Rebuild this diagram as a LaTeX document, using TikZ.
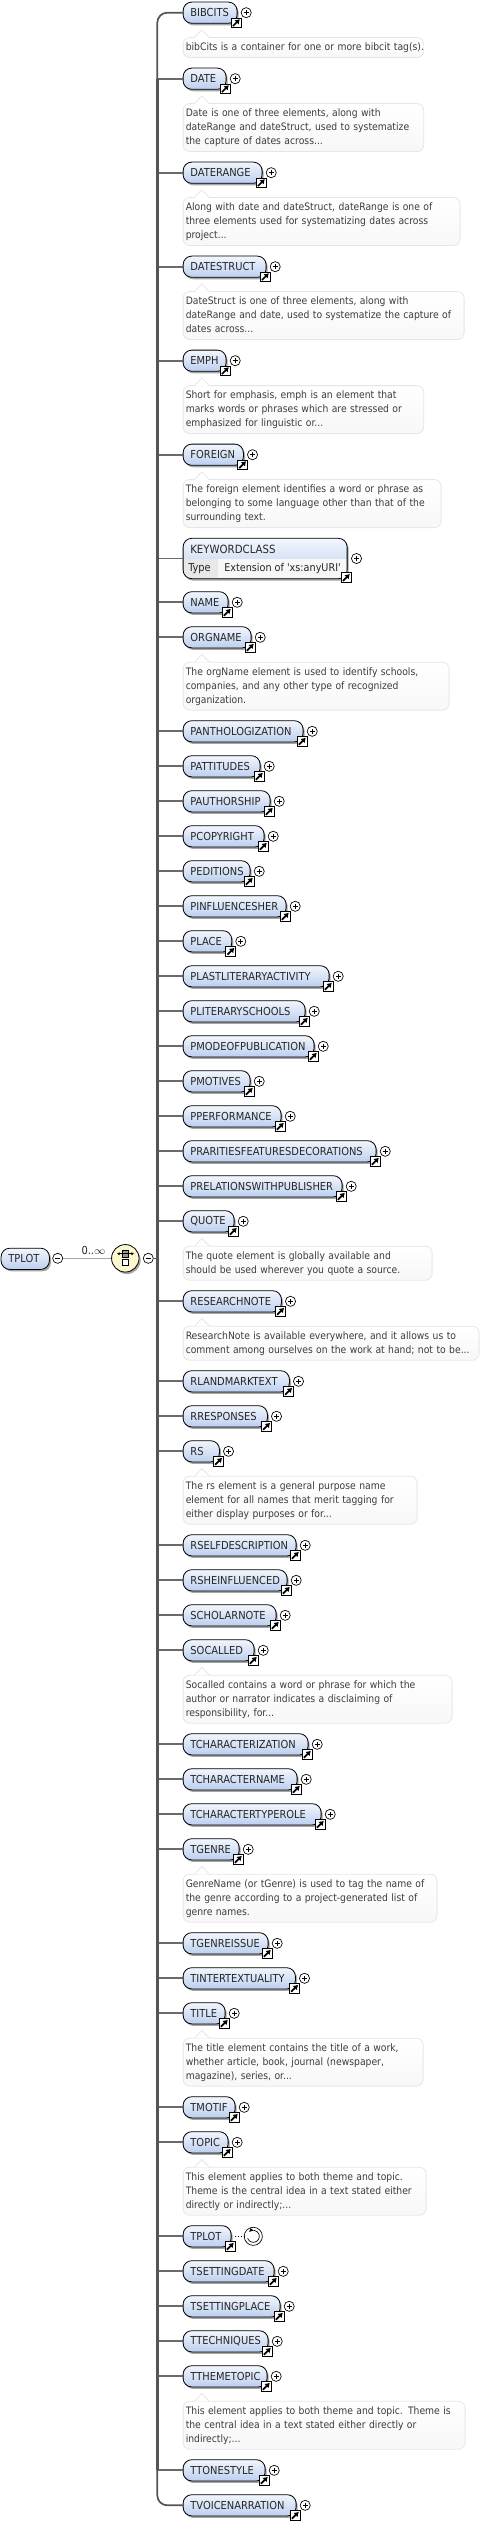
\documentclass[tikz,border=0pt]{standalone}
\usepackage{fontspec}
\setmainfont{DejaVu Sans Condensed}
\usetikzlibrary{calc,arrows.meta,shadows}
\definecolor{elemtop}{HTML}{F2F6FD}
\definecolor{elembot}{HTML}{BCCFEF}
\definecolor{buscol}{HTML}{555555}
\definecolor{branchcol}{HTML}{6A6A6A}
\definecolor{desclin}{HTML}{E6E6E6}
\definecolor{desctxt}{HTML}{3C3C3C}
\definecolor{seqfill}{HTML}{FBF8CF}
\tikzset{
  elemshadow/.style={drop shadow={shadow xshift=1.2pt,shadow yshift=-1.5pt,fill=black,opacity=.35}},
  elembox/.style={draw=black,line width=0.6pt,rounded corners=6.5pt,anchor=west,elemshadow,
    top color=elemtop,bottom color=elembot,minimum height=15.9pt,inner xsep=5.5pt,inner ysep=0pt,
    align=left,text=black!85,font=\fontsize{8.25}{10}\selectfont},
  branch/.style={color=branchcol,line width=1.3pt},
  descbox/.style={draw=desclin,line width=0.6pt,rounded corners=5pt,anchor=north west,
    top color=white,bottom color=black!3,inner xsep=2pt,inner ysep=2.25pt,align=left,text=desctxt,
    font=\fontsize{7.7}{10.5}\selectfont,execute at begin node=\strut,execute at end node=\strut},
  linkbox/.style={draw=black,fill=white,line width=0.6pt,minimum size=7.4pt,inner sep=0pt,
    path picture={\draw[line width=1.3pt,-{Latex[length=3.4pt,width=4.6pt]}]
      ([shift={(1.3pt,1.3pt)}]path picture bounding box.south west) -- ([shift={(-0.9pt,-0.9pt)}]path picture bounding box.north east);}},
  plusbtn/.style={circle,draw=black,fill=white,line width=0.5pt,minimum size=7.6pt,inner sep=0pt,
    path picture={\draw[line width=0.5pt] ([xshift=-2pt]path picture bounding box.center) -- ([xshift=2pt]path picture bounding box.center)
      ([yshift=-2pt]path picture bounding box.center) -- ([yshift=2pt]path picture bounding box.center);}},
  minusbtn/.style={circle,draw=black,fill=white,line width=0.5pt,minimum size=7.6pt,inner sep=0pt,
    path picture={\draw[line width=0.5pt] ([xshift=-2pt]path picture bounding box.center) -- ([xshift=2pt]path picture bounding box.center);}},
  seqcell/.style={draw=black,line width=0.5pt,minimum size=4.7pt,inner sep=0pt},
}
\begin{document}
\begin{tikzpicture}[x=0.75pt,y=0.75pt,yscale=-1,xscale=1]
%set diagram size
\useasboundingbox (0,0) rectangle (502,2522);
\coordinate (busx) at (157.3,1258.3);
%Element Nodes
\foreach \elname/\ypos/\xright in {BIBCITS/12.7/236.7,DATE/78.7/225.7,DATERANGE/172.7/261.7,DATESTRUCT/266.7/265.7,
  EMPH/360.7/225.7,FOREIGN/454.7/243,NAME/602.3/227.7,ORGNAME/637.3/250.7,PANTHOLOGIZATION/731.3/302.7,
  PATTITUDES/766.3/259.7,PAUTHORSHIP/801.3/269.7,PCOPYRIGHT/836.3/263.7,PEDITIONS/871.3/249.7,
  PINFLUENCESHER/906.3/285.7,PLACE/941.3/231.3,PLASTLITERARYACTIVITY/976.3/328.7,PLITERARYSCHOOLS/1011.3/304.7,
  PMODEOFPUBLICATION/1046.3/313.7,PMOTIVES/1081.3/249.7,PPERFORMANCE/1116.3/280.7,
  PRARITIESFEATURESDECORATIONS/1151.3/375.7,PRELATIONSWITHPUBLISHER/1186.3/341.7,QUOTE/1221.3/233.7,
  RESEARCHNOTE/1301.3/281,RLANDMARKTEXT/1381.3/289,RRESPONSES/1416.3/267,RS/1451.3/219,
  RSELFDESCRIPTION/1545.3/295.7,RSHEINFLUENCED/1580.3/286.7,SCHOLARNOTE/1615.3/275.7,SOCALLED/1650.3/253.7,
  TCHARACTERIZATION/1744.3/307.7,TCHARACTERNAME/1779.3/296.7,TCHARACTERTYPEROLE/1814.3/320.7,TGENRE/1849.3/238.7,
  TGENREISSUE/1943.3/267.7,TINTERTEXTUALITY/1978.3/295,TITLE/2013.3/224.7,TMOTIF/2107.3/234.7,TOPIC/2142.3/227.7,
  TSETTINGDATE/2271.3/273.7,TSETTINGPLACE/2306.3/279.7,TTECHNIQUES/2341.3/267.7,TTHEMETOPIC/2376.3/266.7,
  TTONESTYLE/2470.3/264.7,TVOICENARRATION/2505.3/295.7}{
  \pgfmathsetlengthmacro{\textw}{(\xright-182.7)*0.75pt-11pt}
  \node [elembox,text width=\textw] (el\elname) at (182.7,\ypos) {\mbox{\elname}};
  %first and last join the bus by its own curve
  \ifdim\ypos pt>13pt \ifdim\ypos pt<2500pt
    \draw [branch] (el\elname.west -| busx) -- (el\elname.west);
  \fi\fi
  \node [linkbox] (lk\elname) at ([shift={(-1.4,-0.8)}]el\elname.south east) {};
  \node [plusbtn] (pl\elname) at ([shift={(8.7,0)}]el\elname.east) {};
}
%Recursive Element
\pgfmathsetlengthmacro{\textw}{(230.7-182.7)*0.75pt-11pt}
\node [elembox,text width=\textw] (elTPLOT) at (182.7,2236.3) {\mbox{TPLOT}};
\draw [branch] (elTPLOT.west -| busx) -- (elTPLOT.west);
\node [linkbox] (lkTPLOT) at ([shift={(-1.4,-0.8)}]elTPLOT.south east) {};
\node [circle,draw=black,fill=white,line width=0.5pt,minimum size=13.6pt,inner sep=0pt] (recur) at (253.3,2236.3) {};
\draw [line width=0.5pt,-{Latex[length=3pt,width=3pt]}] ([shift={(-5.64,2.05)}]recur.center) arc (160:-135:6);
\draw [line width=1pt,dash pattern=on 1.1pt off 1.1pt] ([xshift=2.6pt]elTPLOT.east) -- (recur.west);
%Keyword Node
\node [draw=black,line width=0.6pt,rounded corners=6.5pt,anchor=west,elemshadow,minimum width=123pt,minimum height=30.3pt,inner sep=0pt,
  path picture={
    \shade [sharp corners,top color=elemtop,bottom color=elembot] (path picture bounding box.north west) rectangle (path picture bounding box.east);
    \fill [sharp corners,white!97!black] (path picture bounding box.west) rectangle (path picture bounding box.south east);
    \fill [sharp corners,black!9] (path picture bounding box.west) rectangle ([xshift=26.2pt]path picture bounding box.south west);
  }] (elKEYWORDCLASS) at (182.7,558.5) {};
\draw [branch] (elKEYWORDCLASS.west -| busx) -- (elKEYWORDCLASS.west);
\node [linkbox] (lkKEYWORDCLASS) at ([shift={(-1.4,-1.4)}]elKEYWORDCLASS.south east) {};
\node [plusbtn] (plKEYWORDCLASS) at ([shift={(9,0)}]elKEYWORDCLASS.east) {};
% Text Node
\node [anchor=west,inner sep=0pt,text=black!85,font=\fontsize{8.5}{10}\selectfont] (kwname) at (190,549) {KEYWORDCLASS};
\node [anchor=west,inner sep=0pt,text=black!85,font=\fontsize{8.25}{10}\selectfont] (kwtype) at (188,569) {Type};
\node [anchor=west,inner sep=0pt,text=black!85,font=\fontsize{8.05}{10}\selectfont] (kwvalue) at (224,569) {Extension of \textquotesingle xs:anyURI\textquotesingle};
%Annotation Nodes
\foreach \elname/\xright/\txt in {
  BIBCITS/423.3/{\mbox{bibCits is a container for one or more bibcit tag(s).}},
  DATE/423.3/{Date is one of three elements, along with\\dateRange and dateStruct, used to systematize\\the capture of dates across...},
  DATERANGE/459.7/{Along with date and dateStruct, dateRange is one of\\three elements used for systematizing dates across\\project...},
  DATESTRUCT/463.7/{DateStruct is one of three elements, along with\\dateRange and date, used to systematize the capture of\\dates across...},
  EMPH/423.3/{Short for emphasis, emph is an element that\\marks words or phrases which are stressed or\\emphasized for linguistic or...},
  FOREIGN/440.7/{The foreign element identifies a word or phrase as\\belonging to some language other than that of the\\surrounding text.},
  ORGNAME/448.7/{The orgName element is used to identify schools,\\companies, and any other type of recognized\\organization.},
  QUOTE/431.7/{The quote element is globally available and\\should be used wherever you quote a source.},
  RESEARCHNOTE/478.7/{ResearchNote is available everywhere, and it allows us to\\comment among ourselves on the work at hand; not to be...},
  RS/416.7/{The rs element is a general purpose name\\element for all names that merit tagging for\\either display purposes or for...},
  SOCALLED/451.7/{Socalled contains a word or phrase for which the\\author or narrator indicates a disclaiming of\\responsibility, for...},
  TGENRE/436.7/{GenreName (or tGenre) is used to tag the name of\\the genre according to a project-generated list of\\genre names.},
  TITLE/422.7/{The title element contains the title of a work,\\whether article, book, journal (newspaper,\\magazine), series, or...},
  TOPIC/425.7/{This element applies to both theme and topic.\\Theme is the central idea in a text stated either\\directly or indirectly;...},
  TTHEMETOPIC/464.7/{This element applies to both theme and topic. Theme is\\the central idea in a text stated either directly or\\indirectly;...}}{
  \pgfmathsetlengthmacro{\textw}{(\xright-182.7)*0.75pt-4pt}
  \node [descbox,text width=\textw] (dc\elname) at ([shift={(0,13.5)}]el\elname.south west) {\txt};
  \fill [white] ([shift={(12.3,0.6)}]dc\elname.north west) -- ([shift={(19,-7.4)}]dc\elname.north west) -- ([shift={(26.3,0.6)}]dc\elname.north west) -- cycle;
  \draw [draw=desclin,line width=0.6pt] ([shift={(12.3,0)}]dc\elname.north west) -- ([shift={(19,-7.4)}]dc\elname.north west) -- ([shift={(26.3,0)}]dc\elname.north west);
}
%Bus Lines
\draw [color=buscol,line width=1.3pt,rounded corners=7.5pt] (elBIBCITS.west) -| (busx) |- (elTVOICENARRATION.west);
\draw [color=buscol,line width=2.25pt] (elDATE.west -| busx) -- (elTTONESTYLE.west -| busx);
%Root Element
\pgfmathsetlengthmacro{\textw}{(49-0.7)*0.75pt-11pt}
\node [elembox,text width=\textw] (rootel) at (0.7,1258.8) {\mbox{TPLOT}};
\node [minusbtn] (rootminus) at (57.7,1258.3) {};
\node [circle,draw=black,line width=0.6pt,fill=seqfill,minimum size=20.6pt,inner sep=0pt,elemshadow] (seq) at (125.3,1258.3) {};
\node [minusbtn] (seqminus) at (148.3,1258.3) {};
\draw [color=black!35,line width=0.6pt] (rootminus) -- (seq);
\draw [color=buscol,line width=1.1pt] (seqminus) -- (busx);
\node [seqcell,fill=black!40] (seqtop) at (125.5,1253.7) {};
\node [seqcell,fill=white] (seqbot) at (125.5,1262.5) {};
\draw [line width=0.5pt,{Latex[length=2pt,width=2.4pt]}-{Latex[length=2pt,width=2.4pt]}] ([xshift=-3.8pt]seqtop.west) -- ([xshift=3.8pt]seqtop.east);
% Text Node
\node [inner sep=0pt,text=black!85,font=\fontsize{8.25}{10}\selectfont] (occurs) at (93.5,1250.7) {0..$\infty$};
\end{tikzpicture}
\end{document}
